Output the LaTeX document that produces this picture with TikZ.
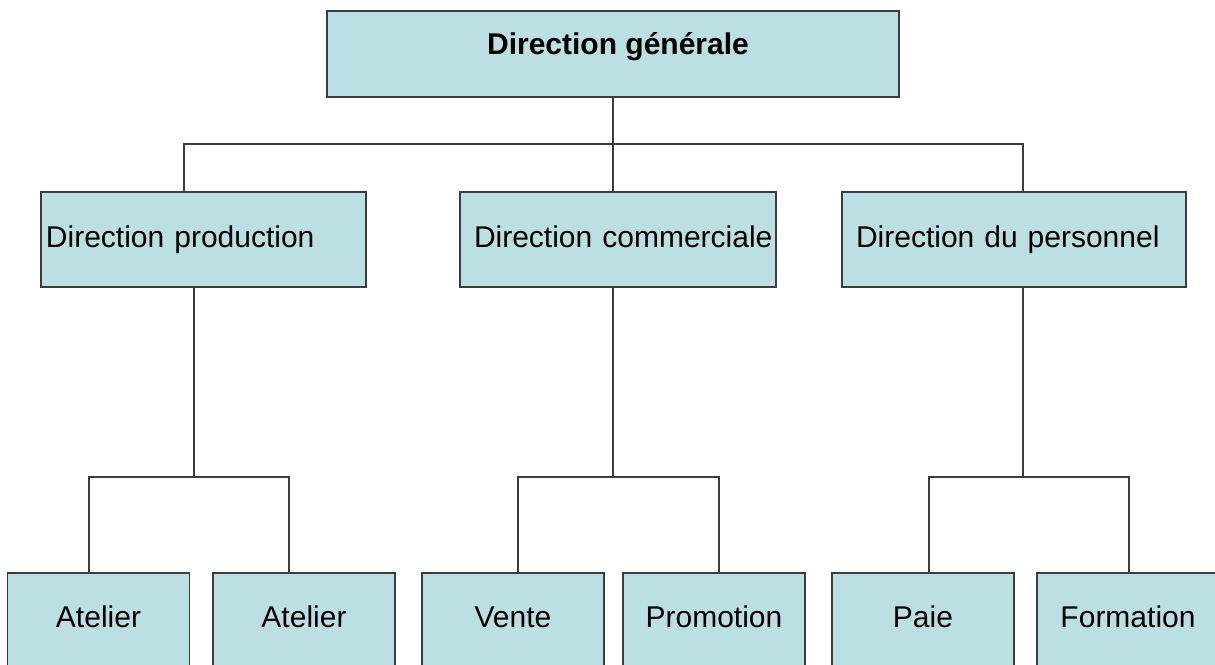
\documentclass[tikz,border=0pt]{standalone}
\usepackage{fontspec}
\setmainfont{Liberation Sans}
\usepackage{tikz}
\usetikzlibrary{positioning, calc}
\definecolor{boxblue}{RGB}{187,223,226}
\definecolor{lineGray}{RGB}{60,60,60}
\tikzstyle{unit} = [rectangle, draw=lineGray, line width=1.3pt, fill=boxblue, inner sep=0pt, font=\fontsize{30}{36}\selectfont]

\begin{document}
\begin{tikzpicture}[x=1pt, y=-1pt]
            \tikzstyle{head} = [unit, minimum width=572pt, text height=43pt, text depth=43pt, font=\fontsize{30}{36}\selectfont\bfseries]
            \tikzstyle{dept} = [unit, align=left, text height=55pt, text depth=40pt]
            \tikzstyle{service} = [unit, minimum width=182pt, text height=54pt, text depth=41pt]
            \tikzstyle{link} = [draw=lineGray, line width=1.4pt]

            \useasboundingbox (0,0) rectangle (1215,664);
            \clip (0,0) rectangle (1215,664);

            \node[head] (dirGen) at (613,54) {\hspace*{10pt}Direction générale};

            \node[dept, text width=325pt] (dirProd) at (203.5,239.5) {\noindent\hspace*{5pt}Direction production};
            \node[dept, text width=316pt] (dirComm) at (618,239.5) {\noindent\hspace*{14pt}Direction commerciale};
            \node[dept, text width=344pt] (dirPers) at (1014,239.5) {\noindent\hspace*{14pt}Direction du personnel};

            \node[service] (atelierA) at (98.5,620.5) {Atelier};
            \node[service] (atelierB) at (304,620.5) {Atelier};
            \node[service] (vente) at (513,620.5) {Vente};
            \node[service] (promo) at (714,620.5) {Promotion};
            \node[service] (paie) at (923,620.5) {Paie};
            \node[service] (formation) at (1128,620.5) {Formation};

            \coordinate (busTop) at (613,144);
            \coordinate (busProd) at (194,477);
            \coordinate (busComm) at (613,477);
            \coordinate (busPers) at (1023,477);

            \draw[link] (dirGen) -- (busTop);
            \draw[link] (busTop) -| ([xshift=-19.5pt]dirProd.north);
            \draw[link] (busTop) -- ([xshift=-5pt]dirComm.north);
            \draw[link] (busTop) -| ([xshift=9pt]dirPers.north);

            \draw[link] ([xshift=-9.5pt]dirProd.south) -- (busProd);
            \draw[link] (busProd) -| ([xshift=-9.5pt]atelierA.north);
            \draw[link] (busProd) -| ([xshift=-15pt]atelierB.north);

            \draw[link] ([xshift=-5pt]dirComm.south) -- (busComm);
            \draw[link] (busComm) -| ([xshift=5pt]vente.north);
            \draw[link] (busComm) -| ([xshift=5pt]promo.north);

            \draw[link] ([xshift=9pt]dirPers.south) -- (busPers);
            \draw[link] (busPers) -| ([xshift=6pt]paie.north);
            \draw[link] (busPers) -| ([xshift=1pt]formation.north);

        \end{tikzpicture}
\end{document}
